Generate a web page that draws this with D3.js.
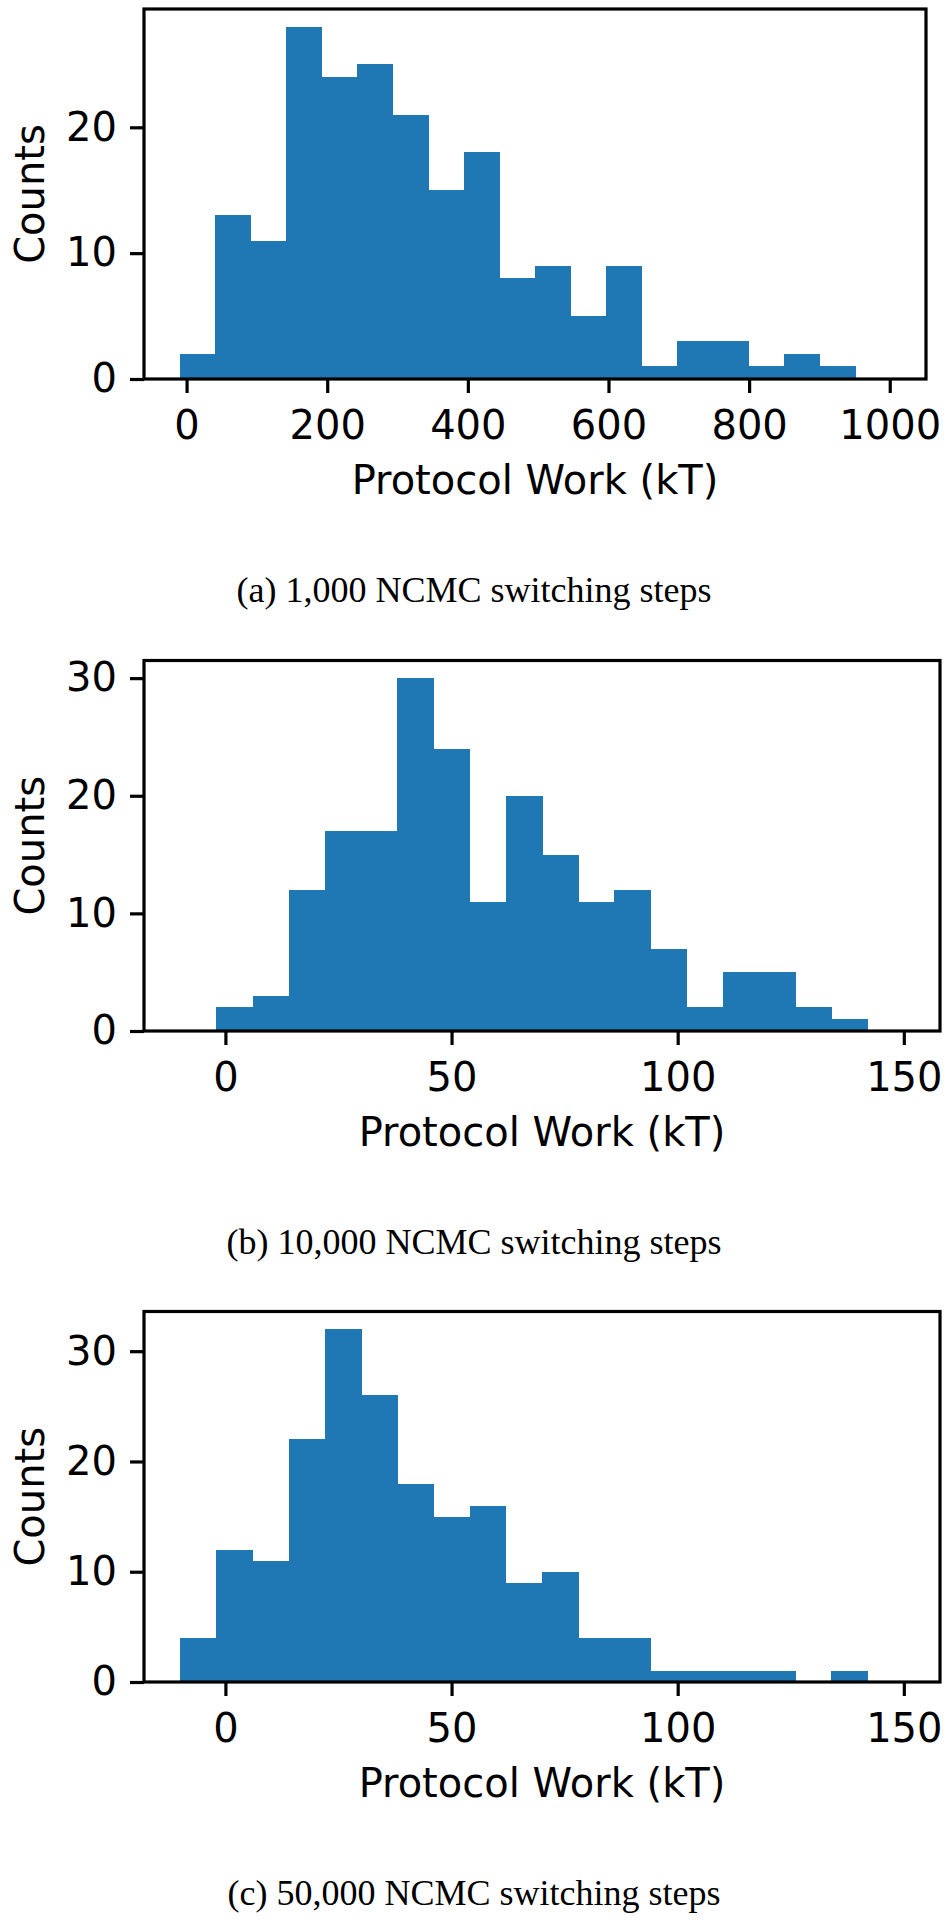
<!DOCTYPE html>
<html>
<head>
<meta charset="utf-8">
<script src="https://cdn.jsdelivr.net/npm/d3@7"></script>
<style>
  body { margin: 0; background: #fff; }
  svg { display: block; }
</style>
</head>
<body>
<div id="chart"></div>
<script>
// histogram counts
const countsA = [2, 13, 11, 28, 24, 25, 21, 15, 18, 8, 9, 5, 9, 1, 3, 3, 1, 2, 1, 0];
const countsB = [0, 2, 3, 12, 17, 17, 30, 24, 11, 20, 15, 11, 12, 7, 2, 5, 5, 2, 1, 0];
const countsC = [4, 12, 11, 22, 32, 26, 18, 15, 16, 9, 10, 4, 4, 1, 1, 1, 1, 0, 1, 0];

// bin ranges (first edge, last edge)
const binRangeA = [-10, 1001];
const binRangeBC = [-10, 150];

const xTicksA = [0, 200, 400, 600, 800, 1000];
const xTicksBC = [0, 50, 100, 150];
const yTicksA = [0, 10, 20];
const yTicksBC = [0, 10, 20, 30];

const captions = [
  "(a) 1,000 NCMC switching steps",
  "(b) 10,000 NCMC switching steps",
  "(c) 50,000 NCMC switching steps"
];

const svgWidth = 951, svgHeight = 1920;
const barColor = "#1f77b4";
const sans = "'DejaVu Sans', sans-serif";

const svg = d3.select("#chart")
  .append("svg")
  .attr("width", svgWidth)
  .attr("height", svgHeight);

// panel boxes (spine positions)
const panels = [
  { counts: countsA, range: binRangeA, xTicks: xTicksA, yTicks: yTicksA,
    left: 144, right: 926, top: 9, bottom: 379 },
  { counts: countsB, range: binRangeBC, xTicks: xTicksBC, yTicks: yTicksBC,
    left: 144, right: 940, top: 660.5, bottom: 1031 },
  { counts: countsC, range: binRangeBC, xTicks: xTicksBC, yTicks: yTicksBC,
    left: 144, right: 940, top: 1311.5, bottom: 1682 }
];

panels.forEach(function(p, i) {
  const n = p.counts.length;
  const w = (p.range[1] - p.range[0]) / n;
  const bins = p.counts.map((c, k) => ({ x0: p.range[0] + k * w, x1: p.range[0] + (k + 1) * w, c: c }));

  // matplotlib style 5% margins
  const span = p.range[1] - p.range[0];
  const xScale = d3.scaleLinear()
    .domain([p.range[0] - 0.05 * span, p.range[1] + 0.05 * span])
    .range([p.left, p.right]);

  const yScale = d3.scaleLinear()
    .domain([0, d3.max(p.counts) * 1.05])
    .range([p.bottom, p.top]);

  const g = svg.append("g");

  // bars
  g.selectAll("rect.bar")
    .data(bins.filter(d => d.c > 0))
    .enter()
    .append("rect")
    .attr("class", "bar")
    .attr("x", d => xScale(d.x0))
    .attr("width", d => xScale(d.x1) - xScale(d.x0) + 0.6)
    .attr("y", d => yScale(d.c))
    .attr("height", d => yScale(0) - yScale(d.c))
    .attr("fill", barColor)
    .attr("shape-rendering", "crispEdges");

  // axes
  const xAxis = d3.axisBottom(xScale).tickValues(p.xTicks).tickSize(14).tickPadding(18).tickFormat(d3.format("d"));
  const yAxis = d3.axisLeft(yScale).tickValues(p.yTicks).tickSize(14).tickPadding(13).tickFormat(d3.format("d"));

  const gx = g.append("g")
    .attr("transform", `translate(0, ${p.bottom})`)
    .call(xAxis);
  const gy = g.append("g")
    .attr("transform", `translate(${p.left}, 0)`)
    .call(yAxis);

  [gx, gy].forEach(function(ax) {
    ax.select(".domain").remove();
    ax.selectAll(".tick line").attr("stroke", "#000").attr("stroke-width", 3.2);
    ax.selectAll(".tick text")
      .attr("fill", "#000")
      .style("font-family", sans)
      .style("font-size", "40px");
  });

  // spines
  g.append("rect")
    .attr("x", p.left)
    .attr("y", p.top)
    .attr("width", p.right - p.left)
    .attr("height", p.bottom - p.top)
    .attr("fill", "none")
    .attr("stroke", "#000")
    .attr("stroke-width", 3.2);

  // axis labels
  g.append("text")
    .attr("x", (p.left + p.right) / 2)
    .attr("y", p.bottom + 115)
    .attr("text-anchor", "middle")
    .style("font-family", sans)
    .style("font-size", "40px")
    .text("Protocol Work (kT)");

  g.append("text")
    .attr("transform", `translate(44, ${(p.top + p.bottom) / 2}) rotate(-90)`)
    .attr("text-anchor", "middle")
    .style("font-family", sans)
    .style("font-size", "40px")
    .text("Counts");

  // caption
  g.append("text")
    .attr("x", 474)
    .attr("y", p.bottom + 223)
    .attr("text-anchor", "middle")
    .style("font-family", "'Liberation Serif', serif")
    .style("font-size", "36px")
    .text(captions[i]);
});
</script>
</body>
</html>
